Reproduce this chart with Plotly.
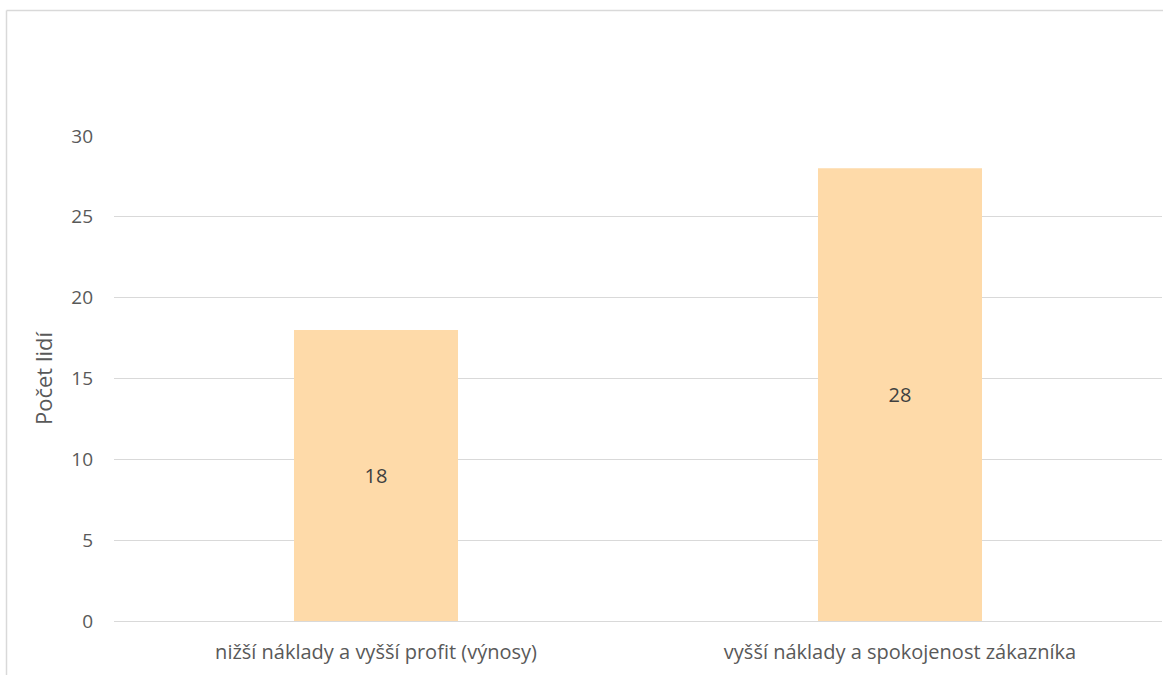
import plotly.graph_objects as go

categories = ["nižší náklady a vyšší profit (výnosy)", "vyšší náklady a spokojenost zákazníka"]
values = [18, 28]
y_ticks = [0, 5, 10, 15, 20, 25, 30]

W, H = 1163, 675
L, R, T, B = 114, 1, 136, 54
pw, ph = W - L - R, H - T - B

font_family = "Open Sans"
txt = "#595959"

fig = go.Figure(go.Bar(
    x=categories, y=values,
    width=0.313,
    marker=dict(color="#FEDAA9", line=dict(width=0)),
    text=[str(v) for v in values],
    textposition="inside",
    insidetextanchor="middle",
    textfont=dict(size=20, color="#404040", family=font_family),
    hoverinfo="skip",
))

fig.update_layout(
    width=W, height=H,
    margin=dict(l=L, r=R, t=T, b=B),
    paper_bgcolor="white", plot_bgcolor="white",
    showlegend=False,
    font=dict(family=font_family, color=txt, size=20),
    xaxis=dict(
        showgrid=False, showline=False, zeroline=False,
        ticks="", ticklabelstandoff=17,
        tickfont=dict(size=20, color=txt, family=font_family),
    ),
    yaxis=dict(
        range=[0, 30], tickvals=y_ticks,
        showgrid=True, gridcolor="#D9D9D9", gridwidth=1.3,
        zeroline=True, zerolinecolor="#D9D9D9", zerolinewidth=1.3,
        showline=False, ticks="", ticklabelstandoff=20,
        tickfont=dict(size=19, color=txt, family=font_family),
        title=dict(text="Počet lidí", font=dict(size=22, color=txt, family=font_family), standoff=12),
    ),
)

# chart frame
x0 = (6.5 - L) / pw
y1 = (H - B - 10.5) / ph
fig.add_shape(type="line", xref="paper", yref="paper", x0=x0, x1=1.01, y0=y1, y1=y1,
              line=dict(color="#D9D9D9", width=1.5), layer="below")
fig.add_shape(type="line", xref="paper", yref="paper", x0=x0, x1=x0, y0=y1, y1=-0.2,
              line=dict(color="#D9D9D9", width=1.5), layer="below")

fig.write_html("out.html")
